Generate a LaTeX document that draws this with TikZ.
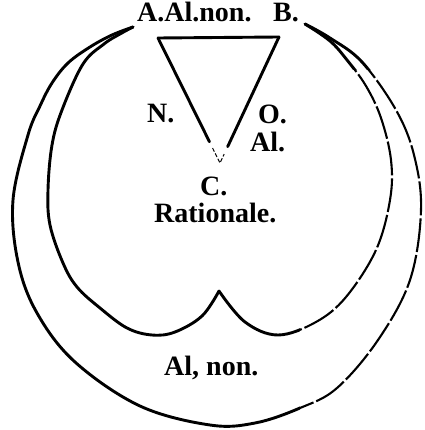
\documentclass[tikz,border=0pt]{standalone}
\usepackage{fontspec}
\setmainfont{Liberation Serif}
\usetikzlibrary{calc}
\newcommand\drawcurves[1]{%
  \draw[#1] plot[smooth,tension=0.6] coordinates {(133,27) (112,35) (90,47) (68,63) (52,83) (40,106) (28,135) (13,200) (18,262) (37,313) (75,362) (140,406) (210,425) (255,423) (300,408) (337,388) (378,340) (410,280) (421,210) (414,155) (396,110) (362,62) (330,38) (305,24)};
  \draw[#1] plot[smooth,tension=0.6] coordinates {(305,24) (330,41) (347,60) (366,86) (381,118) (391,160) (390,200) (376,250) (346,297) (316,322) (278,335) (245,322) (219,291)};
  \draw[#1] plot[smooth,tension=0.6] coordinates {(219,291) (202,316) (175,332) (152,335) (127,328) (100,308) (77,287) (63,263) (50,225) (48,190) (52,145) (62,110) (83,64) (104,44) (120,34) (133,27)};
}
\begin{document}
\begin{tikzpicture}[x=1pt,y=-1pt,
  lbl/.style={font=\fontsize{28}{31}\selectfont\bfseries, inner sep=0pt, anchor=base west},
  heavy/.style={line width=2.9pt, line cap=round, line join=round},
  broken/.style={line width=2.1pt, dash pattern=on 34pt off 3pt},
  fine/.style={line width=1pt, dash pattern=on 4pt off 2pt}]
\useasboundingbox (0,0) rectangle (424,430);
% curves: left part solid, right part broken as in the print
\begin{scope}
  \clip (-10,-10) rectangle (440,70) (-10,70) rectangle (300,440);
  \drawcurves{heavy}
\end{scope}
\begin{scope}
  \clip (300,70) rectangle (440,440);
  \drawcurves{broken}
\end{scope}
% triangle
\coordinate (tA) at (158,38);
\coordinate (tB) at (279,37);
\coordinate (tC) at (220,163);
\draw[heavy] (tA) -- (tB);
\draw[heavy] (tA) -- ($(tA)!0.83!(tC)$);
\draw[heavy] (tB) -- ($(tB)!0.87!(tC)$);
\draw[fine] ($(tA)!0.88!(tC)$) -- (tC) -- ($(tB)!0.93!(tC)$);
% labels
\node[lbl] (top) at (137,22) {A.Al.non.};
\node[lbl] (b) at (273,22) {B.};
\node[lbl] (n) at (147,123) {N.};
\node[lbl] (o) at (258,124) {O.};
\node[lbl] (al) at (250,152) {Al.};
\node[lbl] (c) at (200,195) {C.};
\node[lbl] (rat) at (154,222) {Rationale.};
\node[lbl] (alnon) at (164,375) {Al, non.};
\end{tikzpicture}
\end{document}
